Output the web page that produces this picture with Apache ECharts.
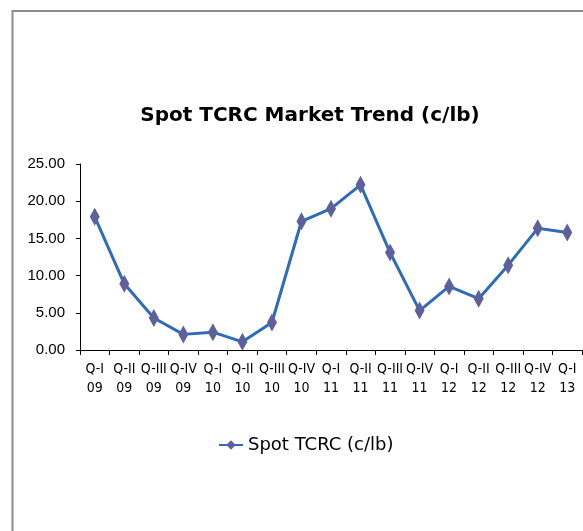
<!DOCTYPE html>
<html>
<head>
<meta charset="utf-8">
<script src="https://cdn.jsdelivr.net/npm/echarts@6/dist/echarts.min.js"></script>
<style>
  html, body { margin: 0; padding: 0; background: #fff; }
  #chart { width: 583px; height: 531px; }
</style>
</head>
<body>
<div id="chart"></div>
<script>
// quarters and years (two-line axis labels)
var quarters = ['Q-I', 'Q-II', 'Q-III', 'Q-IV', 'Q-I', 'Q-II', 'Q-III', 'Q-IV', 'Q-I', 'Q-II', 'Q-III', 'Q-IV', 'Q-I', 'Q-II', 'Q-III', 'Q-IV', 'Q-I'];
var years = ['09', '09', '09', '09', '10', '10', '10', '10', '11', '11', '11', '11', '12', '12', '12', '12', '13'];
// spot TCRC, c/lb
var spotTcrc = [17.9, 8.9, 4.3, 2.1, 2.4, 1.1, 3.7, 17.3, 19.0, 22.2, 13.1, 5.3, 8.55, 6.9, 11.4, 16.35, 15.8];

var categories = quarters.map(function (q, i) { return q + '\n' + years[i]; });

var myChart = echarts.init(document.getElementById('chart'));
var option = {
  animation: false,
  backgroundColor: '#fff',
  graphic: [{
    type: 'rect',
    shape: { x: 12.5, y: 11, width: 700, height: 700 },
    style: { fill: 'none', stroke: '#8c8c8c', lineWidth: 2 },
    silent: true
  }],
  title: {
    text: 'Spot TCRC Market Trend (c/lb)',
    left: 305,
    textAlign: 'center',
    top: 101,
    textStyle: { fontFamily: 'DejaVu Sans', fontWeight: 'bold', fontSize: 20, color: '#000' }
  },
  legend: {
    top: 431,
    left: 213,
    itemWidth: 24,
    itemHeight: 12,
    itemGap: 5,
    data: ['Spot TCRC (c/lb)'],
    textStyle: { fontFamily: 'DejaVu Sans', fontSize: 18, color: '#000' }
  },
  grid: { left: 80, right: 1, top: 164, bottom: 181, containLabel: false },
  xAxis: {
    type: 'category',
    data: categories,
    boundaryGap: true,
    axisLine: { lineStyle: { color: '#000', width: 1 } },
    axisTick: { show: true, length: 5, lineStyle: { color: '#000' } },
    axisLabel: {
      interval: 0,
      margin: 10,
      color: '#000',
      fontFamily: '"DejaVu Sans Condensed", "Liberation Sans", sans-serif',
      fontSize: 14,
      lineHeight: 19
    }
  },
  yAxis: {
    type: 'value',
    min: 0,
    max: 25,
    interval: 5,
    axisLine: { show: true, lineStyle: { color: '#000', width: 1 } },
    axisTick: { show: true, length: 4, lineStyle: { color: '#000' } },
    splitLine: { show: false },
    axisLabel: {
      margin: 15,
      color: '#000',
      fontFamily: 'Liberation Sans',
      fontSize: 15,
      formatter: function (v) { return v.toFixed(2); }
    }
  },
  series: [{
    name: 'Spot TCRC (c/lb)',
    type: 'line',
    data: spotTcrc,
    symbol: 'diamond',
    symbolSize: [10, 18],
    lineStyle: { color: '#2f6cb8', width: 3 },
    itemStyle: { color: '#5e609c' }
  }]
};
myChart.setOption(option);
</script>
</body>
</html>
